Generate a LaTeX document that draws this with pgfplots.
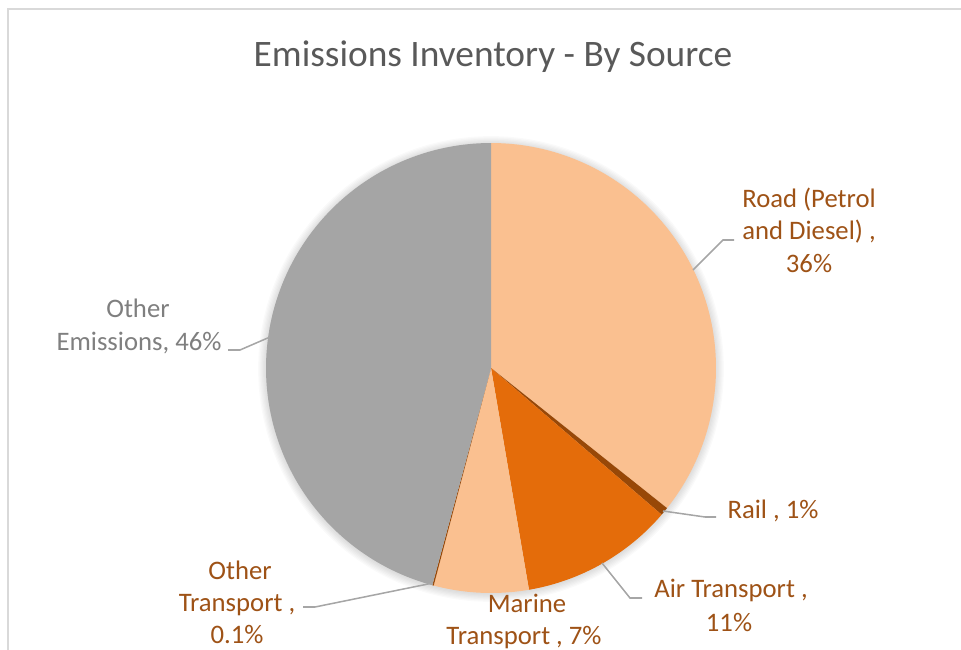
\documentclass[border=0pt]{standalone}
\usepackage{pgfplots}
\usepackage{pgfplotstable}
\pgfplotsset{compat=1.18}
\usepackage{fontspec}
\setmainfont{Carlito}
\definecolor{roadc}{HTML}{FAC090}
\definecolor{railc}{HTML}{984807}
\definecolor{airc}{HTML}{E46C0A}
\definecolor{marc}{HTML}{FAC090}
\definecolor{otc}{HTML}{984807}
\definecolor{othc}{HTML}{A5A5A5}
\definecolor{labc}{RGB}{158,82,22}
\definecolor{graylab}{HTML}{7F7F7F}
\definecolor{titlec}{HTML}{595959}
\definecolor{leader}{HTML}{A6A6A6}
\definecolor{frame}{HTML}{D9D9D9}

% shares (percent) clockwise from 12 o'clock
\pgfplotstableread{
share color
35.7  roadc
0.6   railc
11.0  airc
6.8   marc
0.1   otc
45.8  othc
}\piedata

\begin{document}
\begin{tikzpicture}
\begin{axis}[
  scale only axis, width=9.61in, height=6.5in,
  xmin=0, xmax=961, ymin=0, ymax=650,
  hide axis, clip=false,
  anchor=south west, at={(0,0)},
]
% frame
\addplot[frame, line width=1.44pt] coordinates {(8,0) (8,641) (961,641)};
% soft shadow halo
\pgfplotsinvokeforeach{1,...,7}{
  \fill[black, opacity=0.02] (axis cs:491,281) circle [radius=162pt+#1*0.9pt];
}
% slices
\def\cum{0}
\pgfplotsforeachungrouped \i in {0,...,5}{%
  \pgfplotstablegetelem{\i}{share}\of\piedata
  \let\val\pgfplotsretval
  \pgfplotstablegetelem{\i}{color}\of\piedata
  \let\col\pgfplotsretval
  \pgfmathsetmacro\a{90-3.6*\cum}
  \pgfmathsetmacro\cum{\cum+\val}
  \pgfmathsetmacro\b{90-3.6*\cum}
  \edef\temp{\noexpand\addplot[fill=\col, draw=none, domain=\b:\a, samples=120, variable=\noexpand\t]
     ({491+225*cos(\noexpand\t)},{282+225*sin(\noexpand\t)}) -- (axis cs:491,282) -- cycle;}%
  \temp
}
% leader lines
\addplot[leader, line width=1.1pt] coordinates {(693,380) (723,410) (734,410)};
\addplot[leader, line width=1.1pt] coordinates {(663,139) (705,133) (716,133)};
\addplot[leader, line width=1.1pt] coordinates {(602,87) (630,52) (642,52)};
\addplot[leader, line width=1.1pt] coordinates {(433,67) (315,43) (303,43)};
\addplot[leader, line width=1.1pt] coordinates {(270,313) (240,300) (228,300)};
% title
\node[anchor=base, text=titlec, font=\fontsize{27}{31}\selectfont] at (axis cs:493,584) {Emissions Inventory - By Source};
% labels
\begin{scope}[every node/.style={anchor=base, text=labc, font=\fontsize{19.3}{23}\selectfont}]
\node at (axis cs:809,443) {Road (Petrol};
\node at (axis cs:809,411) {and Diesel) ,};
\node at (axis cs:809,378) {36\%};
\node at (axis cs:773,132) {Rail , 1\%};
\node at (axis cs:731,52) {Air Transport ,};
\node at (axis cs:729,18) {11\%};
\node at (axis cs:527,37) {Marine};
\node at (axis cs:524,5) {Transport , 7\%};
\node at (axis cs:240,70) {Other};
\node at (axis cs:237,38) {Transport ,};
\node at (axis cs:237,6) {0.1\%};
\node[text=graylab] at (axis cs:138,333) {Other};
\node[text=graylab] at (axis cs:139,300) {Emissions, 46\%};
\end{scope}
\end{axis}
\pgfresetboundingbox
\path (0,0) rectangle (9.61in,6.5in);
\end{tikzpicture}
\end{document}
